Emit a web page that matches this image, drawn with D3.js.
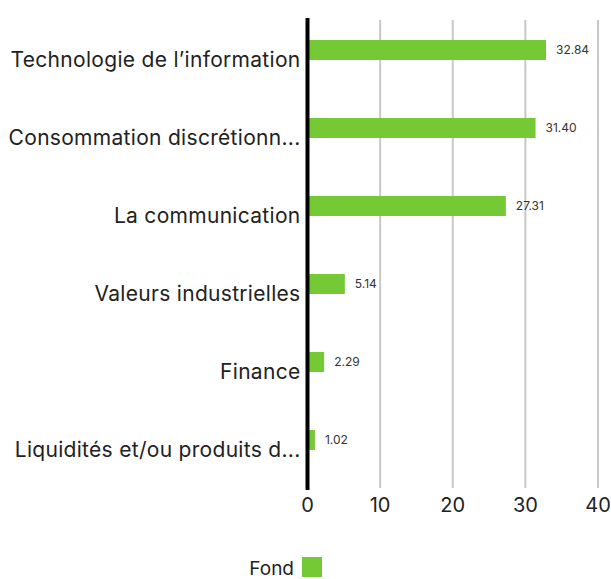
<!DOCTYPE html>
<html>
<head>
<meta charset="utf-8">
<script src="https://cdn.jsdelivr.net/npm/d3@7"></script>
<style>
  body { margin: 0; background: #fff; }
  svg { display: block; font-family: "Inter", "Open Sans", sans-serif; }
</style>
</head>
<body>
<div id="chart"></div>
<script>
// données
var categories = [
    "Technologie de l\u2019information",
    "Consommation discrétionn...",
    "La communication",
    "Valeurs industrielles",
    "Finance",
    "Liquidités et/ou produits d..."
];
var fondValues = [32.84, 31.40, 27.31, 5.14, 2.29, 1.02];
var series = ["Fond", "Indice"];
var xTicks = [0, 10, 20, 30, 40];

var width = 611, height = 579;
var margin = {left: 307.5, right: 13, top: 21, bottom: 90};

var svg = d3.select("#chart").append("svg")
    .attr("width", width)
    .attr("height", height);

var x = d3.scaleLinear()
    .domain([0, 40])
    .range([margin.left, width - margin.right]);

var y = d3.scaleBand()
    .domain(categories)
    .range([margin.top, height - margin.bottom]);

// sous-groupes (seul le fonds est renseigné)
var ySub = d3.scaleBand()
    .domain(series)
    .range([0, y.bandwidth()])
    .paddingInner(0)
    .paddingOuter(0.95);

// grille
svg.append("g")
    .selectAll("line")
    .data(xTicks.slice(1))
    .enter()
    .append("line")
    .attr("x1", function (d) { return x(d); })
    .attr("x2", function (d) { return x(d); })
    .attr("y1", margin.top - 1)
    .attr("y2", height - margin.bottom - 1)
    .attr("stroke", "#c8c8c8")
    .attr("stroke-width", 2);

// barres
svg.append("g")
    .selectAll("rect")
    .data(fondValues)
    .enter()
    .append("rect")
    .attr("x", x(0))
    .attr("y", function (d, i) { return y(categories[i]) + ySub("Fond"); })
    .attr("width", function (d) { return x(d) - x(0); })
    .attr("height", ySub.bandwidth())
    .attr("fill", "#74c935");

// étiquettes de valeurs
svg.append("g")
    .selectAll("text")
    .data(fondValues)
    .enter()
    .append("text")
    .attr("x", function (d) { return x(d) + 10; })
    .attr("y", function (d, i) { return y(categories[i]) + ySub("Fond") + ySub.bandwidth() / 2; })
    .attr("dy", "0.35em")
    .attr("font-size", 12)
    .attr("fill", "#333")
    .text(function (d) { return d.toFixed(2); });

// axe zéro
svg.append("line")
    .attr("x1", x(0))
    .attr("x2", x(0))
    .attr("y1", margin.top - 3)
    .attr("y2", height - margin.bottom + 1)
    .attr("stroke", "#000")
    .attr("stroke-width", 4);

// catégories
svg.append("g")
    .selectAll("text")
    .data(categories)
    .enter()
    .append("text")
    .attr("x", x(0) - 7)
    .attr("y", function (d) { return y(d) + y.bandwidth() / 2; })
    .attr("dy", "0.35em")
    .attr("text-anchor", "end")
    .attr("font-size", 21)
    .attr("letter-spacing", 0.3)
    .attr("fill", "#222")
    .text(function (d) { return d; });

// graduations
svg.append("g")
    .selectAll("text")
    .data(xTicks)
    .enter()
    .append("text")
    .attr("x", function (d) { return x(d); })
    .attr("y", height - margin.bottom + 16)
    .attr("dy", "0.35em")
    .attr("text-anchor", "middle")
    .attr("font-size", 20)
    .attr("fill", "#222")
    .text(function (d) { return d; });

// légende
var legend = svg.append("g").attr("transform", "translate(302,557)");
legend.append("rect")
    .attr("width", 20)
    .attr("height", 20)
    .attr("fill", "#74c935");
legend.append("text")
    .attr("x", -8)
    .attr("y", 11)
    .attr("dy", "0.35em")
    .attr("text-anchor", "end")
    .attr("font-size", 19)
    .attr("fill", "#222")
    .text(series[0]);
</script>
</body>
</html>
